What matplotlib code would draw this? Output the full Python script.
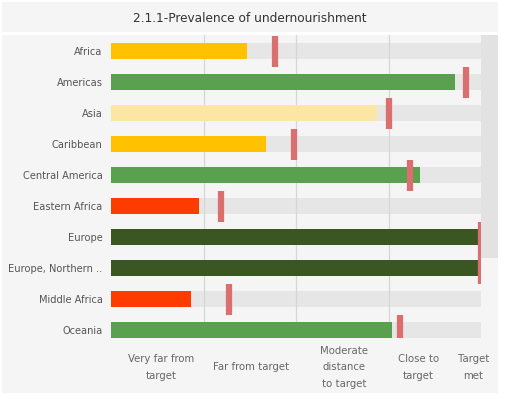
import matplotlib.pyplot as plt
from matplotlib.patches import Rectangle

# data (0..4 scale, one unit per status band)
regions = ['Africa', 'Americas', 'Asia', 'Caribbean', 'Central America',
           'Eastern Africa', 'Europe', 'Europe, Northern ..', 'Middle Africa', 'Oceania']
progress = [1.47, 3.72, 2.88, 1.68, 3.34, 0.95, 4.0, 4.0, 0.87, 3.04]
target = [1.77, 3.84, 3.0, 1.98, 3.23, 1.19, 4.0, 4.0, 1.28, 3.12]
colors = ['#FFC100', '#59A14F', '#FCE6A6', '#FFC100', '#59A14F',
          '#FF3C00', '#3A5723', '#3A5723', '#FF3C00', '#59A14F']
status_labels = ['Very far from\ntarget', 'Far from target', 'Moderate\ndistance\nto target',
                 'Close to\ntarget', 'Target\nmet']
status_pos = [0.54, 1.51, 2.52, 3.32, 3.92]

W, H = 507, 399
fig = plt.figure(figsize=(W/100, H/100), dpi=100)
fig.patch.set_facecolor('white')

# panel backgrounds (title band + chart panel)
fig.patches.append(Rectangle((2/W, 1-32/H), 496/W, 30/H, transform=fig.transFigure,
                             facecolor='#f5f5f5', edgecolor='none', zorder=-2))
fig.patches.append(Rectangle((2/W, 1-393/H), 496/W, 358/H, transform=fig.transFigure,
                             facecolor='#f5f5f5', edgecolor='none', zorder=-2))
# scrollbar strip
fig.patches.append(Rectangle((481/W, 1-258/H), 17/W, 223/H, transform=fig.transFigure,
                             facecolor='#e2e2e2', edgecolor='none', zorder=-1))

fig.text(250/W, 1-18/H, '2.1.1-Prevalence of undernourishment', ha='center', va='center',
         fontsize=8.7, color='#333333')

ax = fig.add_axes([111/W, 1-338/H, 370/W, 303/H])
ax.set_facecolor('none')
ax.set_zorder(2)
y = list(range(len(regions)))

ax.barh(y, [4]*len(y), height=0.52, color='#e6e6e6', zorder=1)
ax.barh(y, progress, height=0.52, color=colors, zorder=3)
ax.errorbar(target, y, yerr=0.5, fmt='none', ecolor='#DB6E6E', elinewidth=4.5, capsize=0, zorder=4)

for g in [1, 2, 3]:
    ax.axvline(g, color='#d6d6d6', lw=0.9, zorder=2)

ax.set_xlim(0, 4)
ax.set_ylim(9.25, -0.52)
ax.set_yticks(y)
ax.set_yticklabels(regions, fontsize=7.1, color='#555555')
ax.tick_params(axis='y', length=0, pad=6)
ax.set_xticks([])
for s in ax.spines.values():
    s.set_visible(False)

for p, lab in zip(status_pos, status_labels):
    ax.text(p, 10.2, lab, ha='center', va='center', fontsize=7.3, color='#666666',
            linespacing=1.8, clip_on=False)

fig.savefig('out.png', dpi=100)
